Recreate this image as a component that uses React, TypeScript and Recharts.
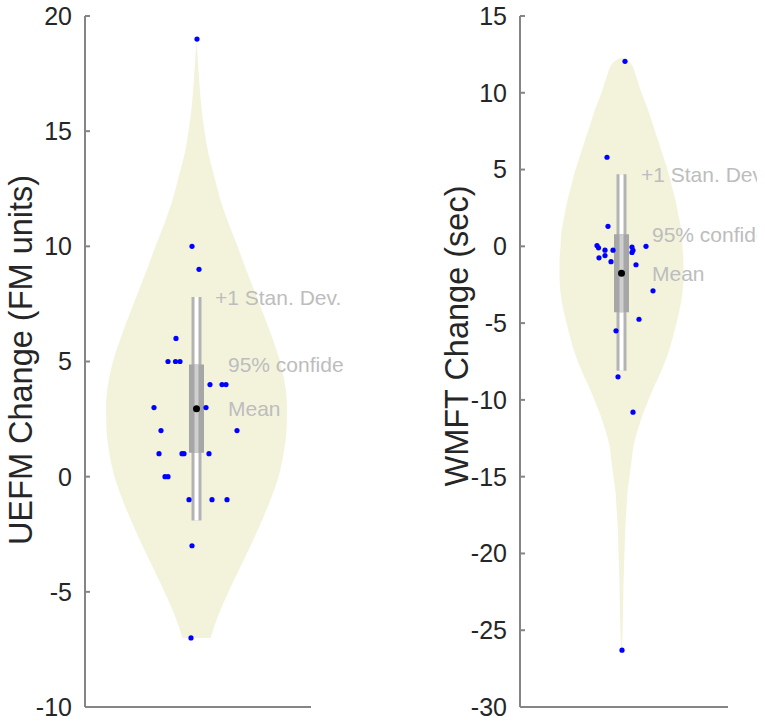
import { ComposedChart, Area, Scatter, XAxis, YAxis, ReferenceArea, ReferenceDot } from 'recharts';

// x units: 1 = 100px, violin centred at 0

// UEFM violin outline (value, half width)
const uefmLevels = [19, 18, 17, 16, 15, 14, 13, 12, 11, 10, 9, 8, 7, 6, 5, 4, 3, 2, 1, 0, -1, -2, -3, -4, -5, -6, -7];
const uefmHalf = [0, 0.015, 0.03, 0.05, 0.08, 0.12, 0.18, 0.24, 0.32, 0.41, 0.495, 0.585, 0.675, 0.76, 0.835, 0.885, 0.905, 0.9, 0.87, 0.82, 0.74, 0.645, 0.54, 0.43, 0.32, 0.22, 0.14];

// UEFM subjects
const uefmValues = [19, 10, 9, 6, 5, 5, 5, 4, 4, 4, 3, 3, 2, 2, 1, 1, 1, 1, 0, 0, -1, -1, -1, -3, -7];
const uefmJitter = [0.005, -0.045, 0.025, -0.205, -0.285, -0.21, -0.165, 0.135, 0.255, 0.295, -0.425, 0.095, -0.355, 0.405, -0.375, -0.145, -0.125, 0.125, -0.315, -0.285, -0.075, 0.155, 0.305, -0.045, -0.055];

const uefmMean = 2.95;
const uefmSd = [-1.9, 7.8];
const uefmCi = [1.04, 4.87];
const uefmTicks = [-10, -5, 0, 5, 10, 15, 20];

// WMFT violin outline
const wmftLevels = [12.3, 12, 11, 10, 9, 8, 7, 6, 5, 4, 3, 2, 1, 0, -1, -2, -3, -4, -5, -6, -7, -8, -9, -10, -11, -12, -13, -14, -15, -16, -17, -18, -20, -22, -24, -26, -26.3];
const wmftHalf = [0, 0.08, 0.15, 0.2, 0.26, 0.31, 0.36, 0.41, 0.46, 0.5, 0.54, 0.57, 0.6, 0.61, 0.62, 0.62, 0.61, 0.585, 0.55, 0.51, 0.465, 0.405, 0.335, 0.27, 0.21, 0.16, 0.12, 0.1, 0.08, 0.06, 0.05, 0.04, 0.03, 0.02, 0.015, 0.005, 0];

// WMFT subjects
const wmftValues = [12.05, 5.8, 1.3, 0.05, -0.1, -0.75, -0.25, -0.6, -0.25, -1.0, -0.05, -0.26, -0.4, 0, -1.2, -2.9, -4.75, -5.5, -8.5, -10.8, -26.3];
const wmftJitter = [0.035, -0.145, -0.135, -0.245, -0.23, -0.225, -0.165, -0.165, -0.085, -0.105, 0.105, 0.115, 0.105, 0.245, 0.145, 0.315, 0.175, -0.055, -0.035, 0.115, 0.005];

const wmftMean = -1.76;
const wmftSd = [-8.1, 4.7];
const wmftCi = [-4.3, 0.78];
const wmftTicks = [-30, -25, -20, -15, -10, -5, 0, 5, 10, 15];

const statLabels = ['+1 Stan. Dev.', '95% confidence interval', 'Mean'];

const AXIS = '#858585';
const VIOLIN = '#f3f3dc';
const LABEL = '#bdbdbd';

const Dot = (p: any) => <circle cx={p.cx} cy={p.cy} r={2.6} fill="#0000ff" />;

const AxisTitle = (p: any) => {
  const vb = p.viewBox || { x: 0, y: 16, width: p.w, height: 691 };
  const x = vb.x + p.bx;
  const y = vb.y + vb.height / 2 + p.dy;
  return (
    <text x={x} y={y} transform={`rotate(-90 ${x} ${y})`} textAnchor="middle" fontSize={32.5} fill="#262626">
      {p.text}
    </text>
  );
};

const statText = (txt: string) => (p: any) => (
  <text x={p.cx} y={p.cy} dy="0.36em" fontSize={21} fill={LABEL}>{txt}</text>
);

function ViolinPanel(p: any) {
  const outline = p.levels.map((v: number, i: number) => ({ v, w: [-p.half[i], p.half[i]] }));
  const points = p.values.map((v: number, i: number) => ({ x: p.jitter[i], v }));
  return (
    <div style={{ position: 'absolute', left: p.left, top: 0, width: p.width, height: 726, overflow: 'hidden' }}>
      <ComposedChart width={p.width} height={726} layout="vertical" data={outline} margin={{ top: 16, right: p.right, bottom: 18, left: 0 }}>
        <XAxis type="number" dataKey="x" domain={p.xDomain} allowDataOverflow height={1} tick={false} tickLine={false}
          axisLine={{ stroke: AXIS, strokeWidth: 2 }} />
        <YAxis type="number" dataKey="v" domain={p.yDomain} ticks={p.ticks} interval={0} reversed allowDataOverflow width={p.axisWidth}
          tickSize={-5} tickMargin={18} tick={{ fontSize: 25, fill: '#262626' }}
          axisLine={{ stroke: AXIS, strokeWidth: 2 }} tickLine={{ stroke: AXIS, strokeWidth: 2 }}
          label={<AxisTitle text={p.title} bx={p.titleX} dy={p.titleDy} w={p.axisWidth} />} />
        <Area dataKey="w" type="monotone" fill={VIOLIN} fillOpacity={1} stroke="none" isAnimationActive={false} />
        <Scatter data={points} shape={Dot} isAnimationActive={false} />
        <ReferenceArea x1={-0.05} x2={0.05} y1={p.sd[0]} y2={p.sd[1]} fill="#b3b3b3" fillOpacity={1} stroke="none" />
        <ReferenceArea x1={-0.02} x2={0.02} y1={p.sd[0]} y2={p.sd[1]} fill="#ffffff" fillOpacity={1} stroke="none" />
        <ReferenceArea x1={-0.075} x2={0.075} y1={p.ci[0]} y2={p.ci[1]} fill="#a6a6a6" fillOpacity={1} stroke="none" />
        <ReferenceArea x1={-0.02} x2={0.02} y1={p.ci[0]} y2={p.ci[1]} fill="#cfcfcf" fillOpacity={1} stroke="none" />
        <ReferenceDot x={0} y={p.mean} r={3.5} fill="#000000" stroke="none" />
        <ReferenceDot x={p.labelX[0]} y={p.sd[1]} r={0} shape={statText(statLabels[0])} />
        <ReferenceDot x={p.labelX[1]} y={p.ci[1]} r={0} shape={statText(statLabels[1])} />
        <ReferenceDot x={p.labelX[1]} y={p.mean} r={0} shape={statText(statLabels[2])} />
      </ComposedChart>
    </div>
  );
}

export default function App() {
  return (
    <div style={{ position: 'absolute', left: 0, top: 0, width: 765, height: 726, background: '#ffffff', fontFamily: '"Liberation Sans", Arial, sans-serif' }}>
      <ViolinPanel left={0} width={344} right={33} axisWidth={85} xDomain={[-1.115, 1.145]} yDomain={[-10, 20]} ticks={uefmTicks}
        title="UEFM Change (FM units)" titleX={32} titleDy={-1.5}
        levels={uefmLevels} half={uefmHalf} values={uefmValues} jitter={uefmJitter}
        mean={uefmMean} sd={uefmSd} ci={uefmCi} labelX={[0.185, 0.315]} />
      <ViolinPanel left={344} width={413} right={29} axisWidth={176} xDomain={[-1.015, 1.065]} yDomain={[-30, 15]} ticks={wmftTicks}
        title="WMFT Change (sec)" titleX={124} titleDy={-25.5}
        levels={wmftLevels} half={wmftHalf} values={wmftValues} jitter={wmftJitter}
        mean={wmftMean} sd={wmftSd} ci={wmftCi} labelX={[0.195, 0.305]} />
    </div>
  );
}
